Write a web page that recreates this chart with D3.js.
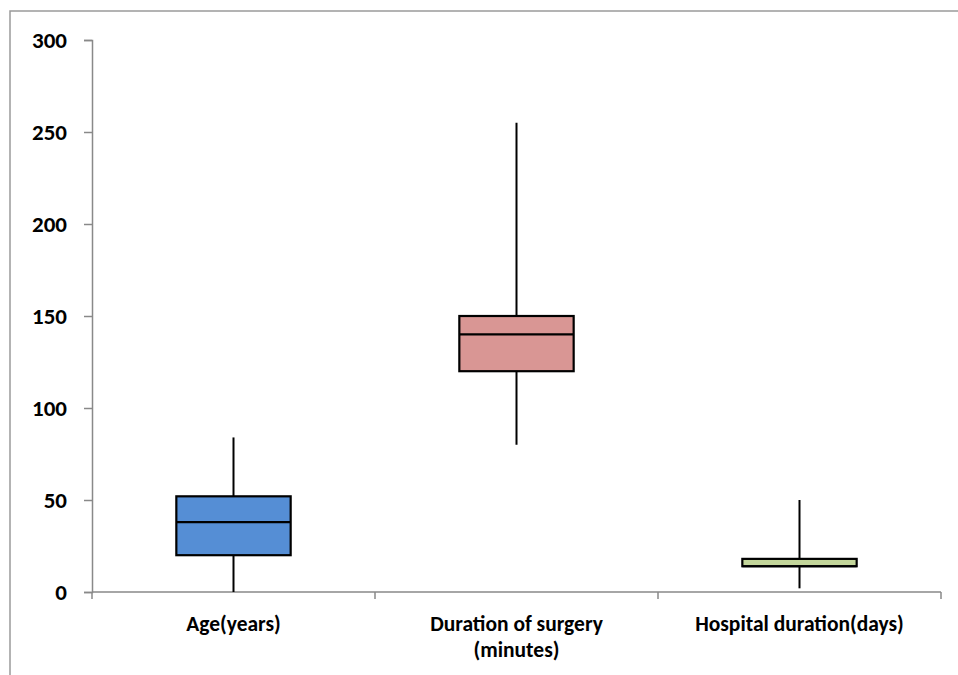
<!DOCTYPE html>
<html>
<head>
<meta charset="utf-8">
<script src="https://cdn.jsdelivr.net/npm/d3@7"></script>
<style>
  html, body { margin: 0; padding: 0; background: #fff; }
  svg { display: block; }
  text { font-family: Carlito, Lato, "Open Sans", sans-serif; font-weight: bold; fill: #000; }
</style>
</head>
<body>
<svg id="chart" width="958" height="675"></svg>
<script>
// Box-plot summaries per measure
const categories = ["Age(years)", "Duration of surgery (minutes)", "Hospital duration(days)"];
const labelLines = [["Age(years)"], ["Duration of surgery", "(minutes)"], ["Hospital duration(days)"]];
const minValues    = [0, 80, 2];
const q1Values     = [20, 120, 14];
const medianValues = [38, 140, 14];
const q3Values     = [52, 150, 18];
const maxValues    = [84, 255, 50];
const boxColors    = ["#558ED5", "#D99694", "#C3D69B"];
const yTicks       = [0, 50, 100, 150, 200, 250, 300];

const svg = d3.select("#chart");
const margin = { left: 92, right: 17, top: 40, bottom: 83 };
const W = 958, H = 675;
const font = "Carlito, Lato, 'Open Sans', sans-serif";

// Outer frame
svg.append("path")
  .attr("d", `M10,${H} L10,11 L${W},11`)
  .attr("fill", "none").attr("stroke", "#9a9a9a").attr("stroke-width", 1.5);

const x = d3.scaleBand().domain(categories).range([margin.left, W - margin.right]);
const y = d3.scaleLinear().domain([0, 300]).range([H - margin.bottom, margin.top]);

// Y axis
const yAxis = svg.append("g").attr("transform", `translate(${margin.left},0)`)
  .call(d3.axisLeft(y).tickValues(yTicks).tickSize(8).tickPadding(17));
yAxis.attr("font-size", 23).attr("font-family", font);
yAxis.select(".domain").attr("stroke", "#898989").attr("stroke-width", 1.5);
yAxis.selectAll(".tick line").attr("stroke", "#898989").attr("stroke-width", 1.5);
yAxis.selectAll(".tick text").style("font-weight", "bold");

// X axis baseline with boundary tick marks
const y0 = y(0);
svg.append("line")
  .attr("x1", margin.left).attr("x2", W - margin.right)
  .attr("y1", y0).attr("y2", y0)
  .attr("stroke", "#898989").attr("stroke-width", 1.5);
const boundaries = categories.map(c => x(c)).concat([x(categories[categories.length - 1]) + x.bandwidth()]);
svg.selectAll(".xtick").data(boundaries).enter().append("line")
  .attr("x1", d => d).attr("x2", d => d)
  .attr("y1", y0).attr("y2", y0 + 7)
  .attr("stroke", "#898989").attr("stroke-width", 1.5);

// Category labels, one text element per line
labelLines.forEach((lines, i) => {
  const cx = x(categories[i]) + x.bandwidth() / 2;
  lines.forEach((ln, j) => {
    svg.append("text").attr("text-anchor", "middle").attr("font-size", 21.5)
      .attr("x", cx).attr("y", 631 + j * 26).text(ln);
  });
});

// Boxes and whiskers
const boxW = x.bandwidth() * 0.404;
categories.forEach((c, i) => {
  const cx = x(c) + x.bandwidth() / 2;
  const g = svg.append("g");
  g.append("line")
    .attr("x1", cx).attr("x2", cx)
    .attr("y1", y(minValues[i])).attr("y2", y(maxValues[i]))
    .attr("stroke", "#000").attr("stroke-width", 2);
  g.append("rect")
    .attr("x", cx - boxW / 2).attr("width", boxW)
    .attr("y", y(q3Values[i])).attr("height", y(q1Values[i]) - y(q3Values[i]))
    .attr("fill", boxColors[i]).attr("stroke", "#000").attr("stroke-width", 2.2);
  g.append("line")
    .attr("x1", cx - boxW / 2).attr("x2", cx + boxW / 2)
    .attr("y1", y(medianValues[i])).attr("y2", y(medianValues[i]))
    .attr("stroke", "#000").attr("stroke-width", 2.2);
});
</script>
</body>
</html>
